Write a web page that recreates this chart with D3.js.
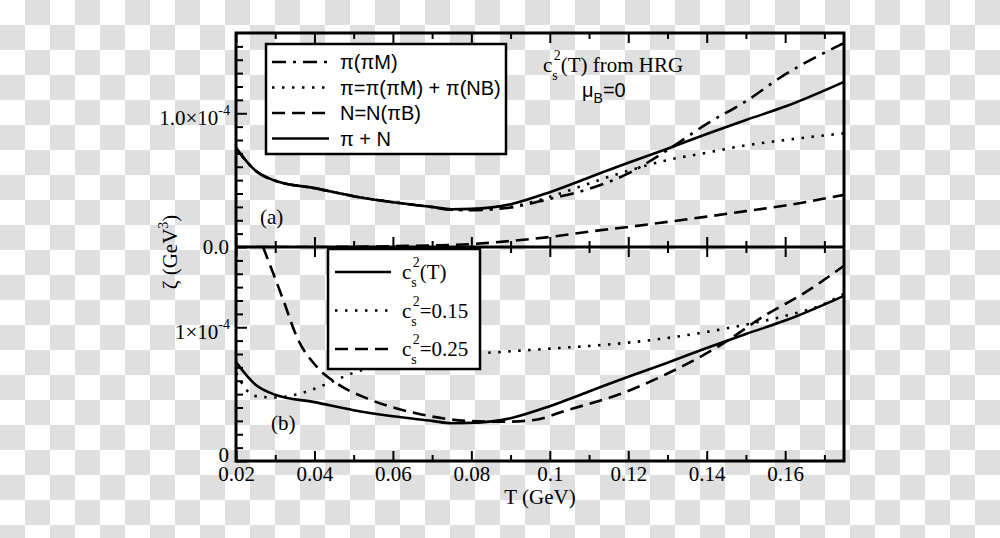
<!DOCTYPE html>
<html><head><meta charset="utf-8">
<script src="https://cdn.jsdelivr.net/npm/d3@7"></script>
<style>
html,body{margin:0;padding:0;background:#fff;}
svg{display:block;}
.serif{font-family:"Liberation Serif","DejaVu Serif",serif;}
.sans{font-family:"Liberation Sans",Arial,sans-serif;}
</style></head>
<body>
<svg id="chart" width="1000" height="538"></svg>
<script>
// ---------- data (zeta in units of 1e-5 GeV^3) ----------
const xTicks = [0.02,0.04,0.06,0.08,0.1,0.12,0.14,0.16];
const xTickLabels = ["0.02","0.04","0.06","0.08","0.1","0.12","0.14","0.16"];
const xMinor = [0.03,0.05,0.07,0.09,0.11,0.13,0.15,0.17];

// panel (a)
const tPiN   = [0.02,0.025,0.03,0.04,0.05,0.06,0.07,0.075,0.08,0.09,0.1,0.11,0.12,0.13,0.14,0.15,0.16,0.175];
const zPiN   = [7.4,5.7,4.95,4.4,3.8,3.35,3.0,2.82,2.85,3.2,4.1,5.2,6.3,7.35,8.45,9.5,10.5,12.35];
const tPiM   = [0.02,0.025,0.03,0.04,0.05,0.06,0.07,0.075,0.08,0.09,0.1,0.11,0.12,0.13,0.14,0.15,0.16,0.175];
const zPiM   = [7.4,5.7,4.95,4.4,3.8,3.35,2.98,2.78,2.76,2.95,3.6,4.35,5.5,7.25,9.2,10.9,12.9,15.25];
const tPi    = [0.02,0.025,0.03,0.04,0.05,0.06,0.07,0.075,0.08,0.09,0.1,0.11,0.12,0.13,0.14,0.15,0.16,0.175];
const zPi    = [7.4,5.7,4.95,4.4,3.8,3.35,2.98,2.78,2.77,3.0,3.75,4.75,5.7,6.5,7.05,7.6,8.0,8.5];
const tN     = [0.02,0.04,0.05,0.06,0.07,0.08,0.09,0.1,0.11,0.12,0.13,0.14,0.15,0.16,0.175];
const zN     = [0,0,0.02,0.06,0.12,0.22,0.45,0.75,1.15,1.5,1.88,2.27,2.68,3.1,3.9];

// panel (b)
const tCsT   = tPiN;
const zCsT   = zPiN;
const tCs015 = [0.02,0.0236,0.026,0.03,0.035,0.04,0.045,0.05,0.06,0.07,0.08,0.09,0.1,0.11,0.12,0.13,0.14,0.15,0.16,0.17,0.175];
const zCs015 = [6.6,5.05,4.8,4.75,4.95,5.4,6.0,6.6,7.25,7.65,8.0,8.2,8.4,8.6,8.85,9.2,9.65,10.2,10.85,11.75,12.5];
const tCs025 = [0.0269,0.0321,0.0355,0.0406,0.0457,0.0534,0.0662,0.0789,0.0874,0.0959,0.1045,0.1172,0.13,0.1428,0.1555,0.164,0.175];
const zCs025 = [16.0,12.0,9.28,7.04,5.8,4.68,3.55,3.0,2.93,3.06,3.81,4.93,6.54,8.53,11.0,12.4,14.6];

// ---------- layout ----------
const svg = d3.select("#chart");
const L=236, R=844, T0=33, M=247, B=461;
const x  = d3.scaleLinear().domain([0.02,0.175]).range([L,R]);
const yA = d3.scaleLinear().domain([0,16]).range([M,T0]);
const yB = d3.scaleLinear().domain([0,16]).range([B,M]);

// checkerboard background
const defs = svg.append("defs");
const pat = defs.append("pattern").attr("id","chk").attr("width",50).attr("height",50).attr("patternUnits","userSpaceOnUse");
pat.append("rect").attr("width",50).attr("height",50).attr("fill","#ffffff");
pat.append("rect").attr("x",25).attr("y",0).attr("width",25).attr("height",25).attr("fill","#dfdfdf");
pat.append("rect").attr("x",0).attr("y",25).attr("width",25).attr("height",25).attr("fill","#dfdfdf");
svg.append("rect").attr("width",1000).attr("height",538).attr("fill","url(#chk)");

defs.append("clipPath").attr("id","clipA").append("rect").attr("x",L).attr("y",T0).attr("width",R-L).attr("height",M-T0);
defs.append("clipPath").attr("id","clipB").append("rect").attr("x",L).attr("y",M).attr("width",R-L).attr("height",B-M);

// ---------- axes ----------
function styleAxis(g){ g.select(".domain").remove(); g.selectAll("line").attr("stroke","#000").attr("stroke-width",2); }
const tickFont = 21;
// bottom axis (labels)
const gxB = svg.append("g").attr("transform",`translate(0,${B})`)
  .call(d3.axisBottom(x).tickValues(xTicks).tickSize(-10).tickPadding(5).tickFormat((d,i)=>xTickLabels[i]));
styleAxis(gxB);
gxB.selectAll("text").attr("class","serif").attr("font-size",tickFont).attr("fill","#000");
svg.append("g").attr("transform",`translate(0,${B})`).call(d3.axisBottom(x).tickValues(xMinor).tickSize(-6).tickFormat("")).call(styleAxis);
// middle line ticks (up for panel a, down for panel b)
svg.append("g").attr("transform",`translate(0,${M})`).call(d3.axisBottom(x).tickValues(xTicks).tickSize(-10).tickFormat("")).call(styleAxis);
svg.append("g").attr("transform",`translate(0,${M})`).call(d3.axisBottom(x).tickValues(xMinor).tickSize(-6).tickFormat("")).call(styleAxis);
svg.append("g").attr("transform",`translate(0,${M})`).call(d3.axisTop(x).tickValues(xTicks).tickSize(-10).tickFormat("")).call(styleAxis);
svg.append("g").attr("transform",`translate(0,${M})`).call(d3.axisTop(x).tickValues(xMinor).tickSize(-6).tickFormat("")).call(styleAxis);
// top ticks
svg.append("g").attr("transform",`translate(0,${T0})`).call(d3.axisTop(x).tickValues(xTicks).tickSize(-10).tickFormat("")).call(styleAxis);
svg.append("g").attr("transform",`translate(0,${T0})`).call(d3.axisTop(x).tickValues(xMinor).tickSize(-6).tickFormat("")).call(styleAxis);

// y axes
const yMajor = [0,10];
const yMinor = d3.range(1,16).filter(v=>v!==10);
[yA,yB].forEach(ys=>{
  svg.append("g").attr("transform",`translate(${L},0)`).call(d3.axisLeft(ys).tickValues(yMajor).tickSize(-11).tickFormat("")).call(styleAxis);
  svg.append("g").attr("transform",`translate(${L},0)`).call(d3.axisLeft(ys).tickValues(yMinor).tickSize(-7).tickFormat("")).call(styleAxis);
});

// y tick labels
function sciLabel(xr, y, mant){
  const t = svg.append("text").attr("class","serif").attr("font-size",tickFont).attr("text-anchor","end").attr("x",xr).attr("y",y);
  t.append("tspan").text(mant+"×10");
  t.append("tspan").attr("font-size",14).attr("dy",-10).text("-4");
}
sciLabel(230, yA(10)+12, "1.0");
svg.append("text").attr("class","serif").attr("font-size",tickFont).attr("text-anchor","end").attr("x",229).attr("y",yA(0)+7).text("0.0");
sciLabel(230, yB(10)+12, "1");
svg.append("text").attr("class","serif").attr("font-size",tickFont).attr("text-anchor","end").attr("x",229).attr("y",yB(0)+1).text("0");

// axis titles
svg.append("text").attr("class","serif").attr("font-size",21).attr("text-anchor","middle").attr("x",540).attr("y",504).text("T (GeV)");
const yl = svg.append("text").attr("class","serif").attr("font-size",21).attr("text-anchor","middle")
  .attr("transform","translate(177,252) rotate(-90)");
yl.append("tspan").text("ζ (GeV");
yl.append("tspan").attr("font-size",14).attr("dy",-9).text("3");
yl.append("tspan").attr("dy",9).text(")");

// ---------- curves ----------
function draw(ts, zs, ys, clip, dash){
  const line = d3.line().x((d,i)=>x(ts[i])).y((d,i)=>ys(zs[i])).curve(d3.curveMonotoneX);
  svg.append("path").datum(zs).attr("d",line).attr("fill","none").attr("stroke","#000")
    .attr("stroke-width",2.6).attr("stroke-dasharray",dash).attr("clip-path",`url(#${clip})`);
}
draw(tN, zN, yA, "clipA", "13,7");
draw(tPi, zPi, yA, "clipA", "2.5,7.5");
draw(tPiM, zPiM, yA, "clipA", "14,7,3,7");
draw(tPiN, zPiN, yA, "clipA", null);

draw(tCs025, zCs025, yB, "clipB", "13,7");
draw(tCs015, zCs015, yB, "clipB", "2.5,7.5");
draw(tCsT, zCsT, yB, "clipB", null);

// frame
svg.append("rect").attr("x",L).attr("y",T0).attr("width",R-L).attr("height",B-T0).attr("fill","none").attr("stroke","#000").attr("stroke-width",3);
svg.append("line").attr("x1",L).attr("x2",R).attr("y1",M).attr("y2",M).attr("stroke","#000").attr("stroke-width",3);

// ---------- legend (a) ----------
svg.append("rect").attr("x",266).attr("y",44).attr("width",240).attr("height",110).attr("fill","#fff").attr("stroke","#000").attr("stroke-width",2.5);
const legA = [
  {label:"π(πM)", dash:"14,7,3,7"},
  {label:"π=π(πM) + π(NB)", dash:"2.5,7.5"},
  {label:"N=N(πB)", dash:"13,7"},
  {label:"π + N", dash:null}
];
legA.forEach((d,i)=>{
  const yy = 62 + i*25.5;
  svg.append("line").attr("x1",272).attr("x2",329).attr("y1",yy).attr("y2",yy).attr("stroke","#000").attr("stroke-width",2.6).attr("stroke-dasharray",d.dash);
  svg.append("text").attr("class","sans").attr("font-size",20).attr("x",340).attr("y",yy+7).text(d.label);
});

// ---------- legend (b) ----------
svg.append("rect").attr("x",328).attr("y",249).attr("width",152).attr("height",120).attr("fill","#fff").attr("stroke","#000").attr("stroke-width",2.5);
const legB = [
  {rest:"(T)", dash:null},
  {rest:"=0.15", dash:"2.5,7.5"},
  {rest:"=0.25", dash:"13,7"}
];
function csText(xx, yy, rest, size){
  const t = svg.append("text").attr("class","serif").attr("font-size",size).attr("x",xx).attr("y",yy);
  t.append("tspan").text("c");
  t.append("tspan").attr("font-size",size*0.66).attr("dy",8).text("s");
  t.append("tspan").attr("font-size",size*0.66).attr("dx",-4).attr("dy",-20).text("2");
  t.append("tspan").attr("dy",12).text(rest);
  return t;
}
legB.forEach((d,i)=>{
  const yy = 272 + i*38.5;
  svg.append("line").attr("x1",335).attr("x2",391).attr("y1",yy).attr("y2",yy).attr("stroke","#000").attr("stroke-width",2.6).attr("stroke-dasharray",d.dash);
  csText(402, yy+7, d.rest, 21);
});

// ---------- annotations ----------
csText(543, 72, "(T) from HRG", 21);
const mu = svg.append("text").attr("class","sans").attr("font-size",20).attr("x",582).attr("y",97);
mu.append("tspan").text("μ");
mu.append("tspan").attr("font-size",14).attr("dy",6).text("B");
mu.append("tspan").attr("dy",-6).text("=0");

svg.append("text").attr("class","serif").attr("font-size",21).attr("x",260).attr("y",224).text("(a)");
svg.append("text").attr("class","serif").attr("font-size",21).attr("x",271).attr("y",430).text("(b)");
</script>
</body></html>
